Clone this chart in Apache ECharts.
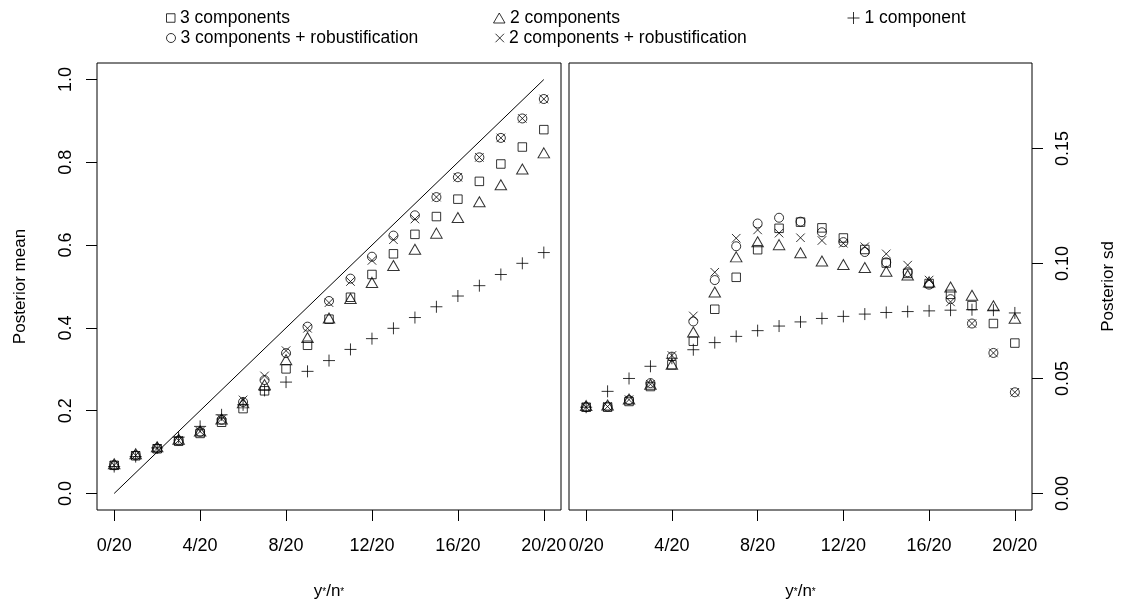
<!DOCTYPE html>
<html><head><meta charset="utf-8">
<script src="https://cdn.jsdelivr.net/npm/echarts@6/dist/echarts.min.js"></script>
<style>html,body{margin:0;padding:0;background:#fff}#c{width:1125px;height:601px}</style>
</head><body><div id="c"></div>
<script>
// ---- data ----
const xVals = [0,1,2,3,4,5,6,7,8,9,10,11,12,13,14,15,16,17,18,19,20];
const xTickValues = [0,4,8,12,16,20];
const xTickLabels = ['0/20','4/20','8/20','12/20','16/20','20/20'];
const meanTicks = [0,0.2,0.4,0.6,0.8,1.0];
const sdTicks = [0,0.05,0.10,0.15];
const seriesNames = ['3 components','3 components + robustification','2 components','2 components + robustification','1 component'];
const refLine = [[0,0],[20,1]];

const mean3  = [0.068,0.091,0.108,0.126,0.145,0.172,0.205,0.248,0.301,0.358,0.421,0.474,0.529,0.579,0.626,0.669,0.711,0.754,0.796,0.837,0.879];
const mean3r = [0.068,0.092,0.109,0.128,0.149,0.178,0.221,0.274,0.339,0.403,0.465,0.519,0.572,0.623,0.672,0.716,0.764,0.812,0.859,0.906,0.953];
const mean2  = [0.068,0.092,0.109,0.127,0.147,0.176,0.215,0.259,0.319,0.373,0.420,0.467,0.506,0.547,0.586,0.625,0.663,0.701,0.742,0.780,0.819];
const mean2r = [0.068,0.092,0.109,0.128,0.150,0.180,0.226,0.284,0.345,0.399,0.461,0.512,0.563,0.613,0.663,0.716,0.764,0.812,0.859,0.906,0.953];
const mean1  = [0.065,0.089,0.110,0.136,0.162,0.190,0.214,0.249,0.269,0.295,0.321,0.348,0.374,0.399,0.425,0.451,0.477,0.502,0.529,0.556,0.582];

const sd3  = [0.0375,0.0375,0.0400,0.0465,0.0560,0.0662,0.0801,0.0940,0.1060,0.1153,0.1180,0.1155,0.1111,0.1061,0.1002,0.0957,0.0913,0.0866,0.0817,0.0739,0.0654];
const sd3r = [0.0375,0.0378,0.0406,0.0480,0.0595,0.0748,0.0928,0.1075,0.1174,0.1199,0.1182,0.1136,0.1093,0.1050,0.1005,0.0962,0.0908,0.0845,0.0739,0.0611,0.0440];
const sd2  = [0.0375,0.0378,0.0404,0.0468,0.0555,0.0695,0.0869,0.1022,0.1088,0.1075,0.1040,0.1004,0.0989,0.0976,0.0959,0.0943,0.0913,0.0891,0.0855,0.0809,0.0755];
const sd2r = [0.0375,0.0378,0.0408,0.0475,0.0600,0.0772,0.0962,0.1110,0.1146,0.1132,0.1112,0.1100,0.1088,0.1073,0.1042,0.0993,0.0928,0.0833,0.0739,0.0611,0.0440];
const sd1  = [0.0375,0.0444,0.0500,0.0553,0.0588,0.0625,0.0656,0.0683,0.0708,0.0728,0.0746,0.0761,0.0770,0.0780,0.0787,0.0791,0.0794,0.0797,0.0799,0.0797,0.0785];

// ---- styles ----
const FONT = 'Liberation Sans, Arial, Helvetica, sans-serif';
const symStyle = {
  '3 components': {symbol:'rect', size:8.5, offset:[0,0]},
  '3 components + robustification': {symbol:'circle', size:9, offset:[0,0]},
  '2 components': {symbol:'triangle', size:[11.5,10], offset:[0,-1.6]},
  '2 components + robustification': {symbol:'path://M0,0L10,10M10,0L0,10', size:8.5, offset:[0,0]},
  '1 component': {symbol:'path://M5,0L5,10M0,5L10,5', size:12, offset:[0,0]}
};
const openStyle = {color:'none', borderColor:'#000', borderWidth:1};

const meanData = [mean3, mean3r, mean2, mean2r, mean1];
const sdData = [sd3, sd3r, sd2, sd2r, sd1];

function scatter(name, arr, gi) {
  const s = symStyle[name];
  return {
    type:'scatter', name, xAxisIndex:gi, yAxisIndex:gi,
    data: xVals.map((x,i)=>[x, arr[i]]),
    symbol:s.symbol, symbolSize:s.size, symbolOffset:s.offset,
    itemStyle: openStyle, emphasis:{disabled:true}, silent:true
  };
}

const series = [];
seriesNames.forEach((n,i)=>series.push(scatter(n, meanData[i], 0)));
seriesNames.forEach((n,i)=>series.push(scatter(n, sdData[i], 1)));
series.push({type:'line', xAxisIndex:0, yAxisIndex:0, data:refLine, symbol:'none',
  lineStyle:{color:'#000', width:1}, silent:true});

function legendAt(name, left, top) {
  const s = symStyle[name];
  const w = Array.isArray(s.size) ? s.size[0] : s.size;
  const h = Array.isArray(s.size) ? s.size[1] : s.size;
  return {
    left, top, padding:0, itemWidth:w, itemHeight:h, selectedMode:false,
    data:[{name, icon:s.symbol, itemStyle:openStyle}],
    textStyle:{fontFamily:FONT, fontSize:17.5, color:'#000', lineHeight:20}
  };
}

const gridCommon = {top:63, height:447, show:true, borderColor:'#000', borderWidth:1,
  backgroundColor:'transparent', containLabel:false, outerBoundsMode:'none'};

function xAxis(gi) {
  return {
    type:'value', gridIndex:gi, min:-0.8, max:20.8,
    splitLine:{show:false}, axisLine:{show:false, onZero:false},
    axisTick:{show:true, length:11, lineStyle:{color:'#000'}, customValues:xTickValues},
    axisLabel:{show:true, customValues:xTickValues, margin:27, color:'#000', fontFamily:FONT, fontSize:18,
      formatter:(v)=>xTickLabels[xTickValues.indexOf(Math.round(v))] || ''},
    name:'y{s|*}/n{s|*}', nameLocation:'middle', nameGap:71,
    nameTextStyle:{color:'#000', fontFamily:FONT, fontSize:17, lineHeight:20, verticalAlign:'top',
      rich:{s:{fontSize:10, color:'#000', fontFamily:FONT, lineHeight:20, verticalAlign:'bottom', padding:[0,0,4,0]}}}
  };
}

function yAxis(gi, min, max, pos, ticks, dec, name) {
  return {
    type:'value', gridIndex:gi, min, max, position:pos,
    splitLine:{show:false}, axisLine:{show:false, onZero:false},
    axisTick:{show:true, length:11, lineStyle:{color:'#000'}, customValues:ticks},
    axisLabel:{customValues:ticks, rotate:90, margin:22, color:'#000', fontFamily:FONT, fontSize:18,
      formatter:(v)=>v.toFixed(dec)},
    name, nameLocation:'middle', nameRotate:90, nameGap:68,
    nameTextStyle:{color:'#000', fontFamily:FONT, fontSize:17}
  };
}

const option = {
  animation:false,
  backgroundColor:'#fff',
  legend:[
    legendAt('3 components', 164, 8),
    legendAt('2 components', 491, 8),
    legendAt('1 component', 845, 8),
    legendAt('3 components + robustification', 164, 28),
    legendAt('2 components + robustification', 493, 28)
  ],
  grid:[
    Object.assign({left:97, width:464}, gridCommon),
    Object.assign({left:569, width:463}, gridCommon)
  ],
  xAxis:[xAxis(0), xAxis(1)],
  yAxis:[
    yAxis(0, -0.04, 1.04, 'left', meanTicks, 1, 'Posterior mean'),
    yAxis(1, -0.0072, 0.1872, 'right', sdTicks, 2, 'Posterior sd')
  ],
  series
};
const chart = echarts.init(document.getElementById('c'), null, {renderer:'canvas'});
chart.setOption(option);
</script></body></html>
